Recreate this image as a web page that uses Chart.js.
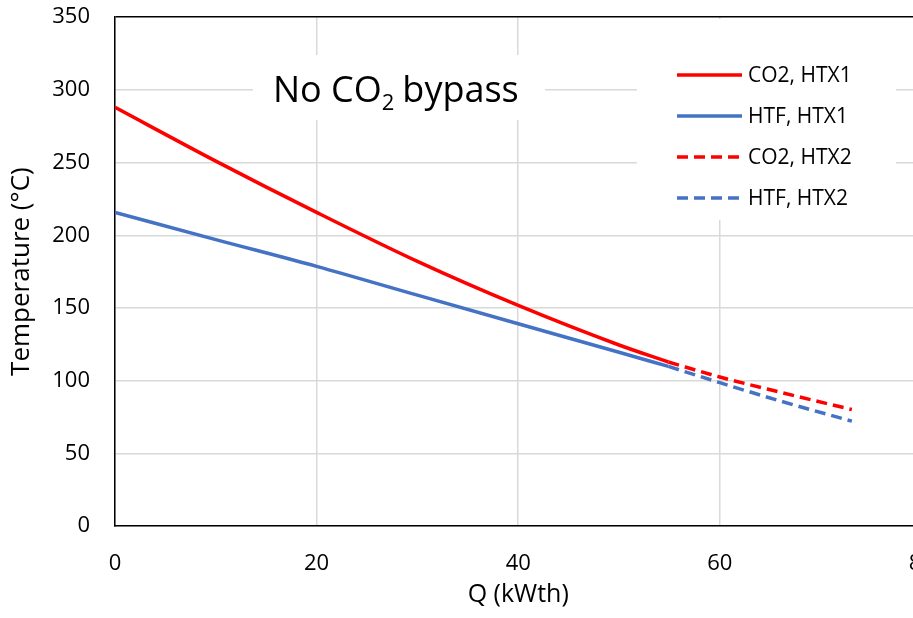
<!DOCTYPE html>
<html>
<head>
<meta charset="utf-8">
<script src="https://cdn.jsdelivr.net/npm/chart.js@4.4.0/dist/chart.umd.min.js"></script>
<style>
  html, body { margin: 0; padding: 0; background: #fff; overflow: hidden; }
  #wrap { width: 913px; height: 618px; overflow: hidden; position: relative; }
  #chart { position: absolute; left: 0; top: -21px; }
</style>
</head>
<body>
<div id="wrap"><canvas id="chart" width="959" height="639"></canvas></div>
<script>
// Q (kWth) vs temperature (°C)
const co2Htx1Q = [0, 10, 20, 30, 40, 50, 54.9];
const co2Htx1T = [288, 251, 215.7, 182, 151.7, 124.5, 112.8];
const htfHtx1Q = [0, 10, 20, 30, 40, 50, 54.9];
const htfHtx1T = [215.7, 197, 178.6, 158.8, 139.1, 119.5, 109.8];
const co2Htx2Q = [54.9, 60, 66, 73.1];
const co2Htx2T = [112.8, 102.5, 92, 80.1];
const htfHtx2Q = [54.9, 60, 66, 73.1];
const htfHtx2T = [109.8, 98.6, 86, 72.1];
const xTicks = [0, 20, 40, 60, 80];
const yTicks = [0, 50, 100, 150, 200, 250, 300, 350];

const RED = '#ff0000';
const BLUE = '#4472c4';
const FONT = "'Open Sans', 'Noto Sans', sans-serif";
const OY = 21; // canvas is shifted up by this much

const pts = (xs, ys) => xs.map((x, i) => ({ x: x, y: ys[i] }));

function line(label, xs, ys, color, dashed) {
  return {
    label: label,
    data: pts(xs, ys),
    borderColor: color,
    backgroundColor: color,
    borderWidth: 3.5,
    borderDash: dashed ? [11, 6] : [],
    showLine: true,
    pointRadius: 0,
    cubicInterpolationMode: 'monotone',
    fill: false
  };
}

// title box and legend box drawn over the grid
const overlay = {
  id: 'overlay',
  afterDatasetsDraw(chart) {
    const ctx = chart.ctx;
    ctx.save();
    ctx.translate(0, OY);
    // title
    ctx.fillStyle = '#fff';
    ctx.fillRect(253, 55, 292, 65);
    ctx.fillStyle = '#000';
    ctx.textBaseline = 'alphabetic';
    ctx.textAlign = 'left';
    ctx.font = '36px ' + FONT;
    let x = 273;
    const base = 102;
    ctx.fillText('No CO', x, base);
    x += ctx.measureText('No CO').width;
    ctx.font = '22px ' + FONT;
    ctx.fillText('2', x, base + 8);
    x += ctx.measureText('2').width + 8;
    ctx.font = '36px ' + FONT;
    ctx.fillText('bypass', x, base);

    // legend
    ctx.fillStyle = '#fff';
    ctx.fillRect(637, 19, 259, 201);
    ctx.font = '21px ' + FONT;
    ctx.textBaseline = 'middle';
    chart.data.datasets.forEach((ds, i) => {
      const y = 75 + i * 41;
      ctx.strokeStyle = ds.borderColor;
      ctx.lineWidth = 3.5;
      ctx.setLineDash(ds.borderDash.length ? [11, 6] : []);
      ctx.beginPath();
      ctx.moveTo(677, y);
      ctx.lineTo(742, y);
      ctx.stroke();
      ctx.fillStyle = '#000';
      ctx.fillText(ds.label, 748, y + 1);
    });
    ctx.restore();
  }
};

new Chart(document.getElementById('chart'), {
  type: 'scatter',
  data: {
    datasets: [
      line('CO2, HTX1', co2Htx1Q, co2Htx1T, RED, false),
      line('HTF, HTX1', htfHtx1Q, htfHtx1T, BLUE, false),
      line('CO2, HTX2', co2Htx2Q, co2Htx2T, RED, true),
      line('HTF, HTX2', htfHtx2Q, htfHtx2T, BLUE, true)
    ]
  },
  options: {
    responsive: false,
    animation: false,
    layout: { autoPadding: false, padding: { top: 0, right: 2, bottom: 0, left: 0 } },
    plugins: {
      legend: { display: false },
      tooltip: { enabled: false }
    },
    scales: {
      x: {
        type: 'linear',
        min: 0,
        max: 80,
        afterBuildTicks: s => { s.ticks = xTicks.map(v => ({ value: v })); },
        afterFit: s => { s.height = 92; },
        grid: { color: '#d9d9d9', lineWidth: 1.5, drawTicks: false },
        border: { color: '#000', width: 1.5 },
        ticks: { color: '#000', font: { family: FONT, size: 22 }, padding: 25 },
        title: { display: true, text: 'Q (kWth)', color: '#000', font: { family: FONT, size: 25 }, padding: { top: 4, bottom: 8 } }
      },
      y: {
        min: 0,
        max: 350,
        afterBuildTicks: s => { s.ticks = yTicks.map(v => ({ value: v })); },
        afterFit: s => { s.width = 115; },
        grid: {
          color: ctx => (ctx.tick && ctx.tick.value === 350 ? '#000' : '#d9d9d9'),
          lineWidth: 1.5,
          drawTicks: false
        },
        border: { color: '#000', width: 1.5 },
        ticks: { color: '#000', font: { family: FONT, size: 22 }, padding: 25 },
        title: { display: true, text: 'Temperature (°C)', color: '#000', font: { family: FONT, size: 26 }, padding: { top: 6, bottom: 4 } }
      }
    }
  },
  plugins: [overlay]
});
</script>
</body>
</html>
